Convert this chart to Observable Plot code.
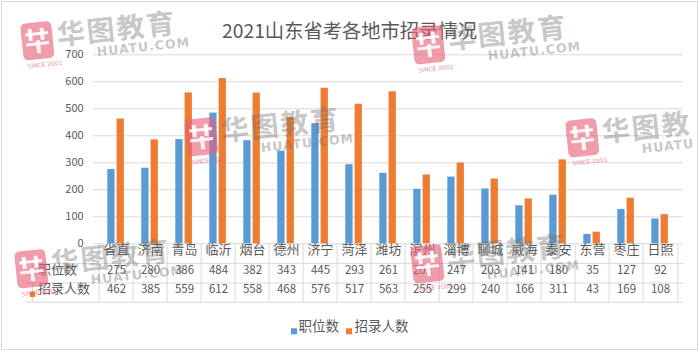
<!DOCTYPE html>
<html>
<head>
<meta charset="utf-8">
<script src="https://cdn.jsdelivr.net/npm/d3@7"></script>
<script src="https://cdn.jsdelivr.net/npm/@observablehq/plot@0.6"></script>
<style>
  body { margin: 0; background: #fff; }
  #wrap { position: relative; width: 700px; height: 352px; overflow: hidden; font-family: "Noto Sans CJK SC", sans-serif; }
  #chart { position: absolute; left: 0; top: 0; }
  #border { position: absolute; left: 1px; top: 1px; width: 695px; height: 347px; border: 1px solid #d9d9d9; pointer-events: none; }
  .wm { position: absolute; transform-origin: 0 0; transform: rotate(-6deg); pointer-events: none; width: 130px; height: 50px; }
  .wm .logo { position: absolute; left: 0; top: 0; width: 31px; height: 37px; border-radius: 5px; background: rgba(232, 96, 120, 0.62); }
  .wm .logo i { position: absolute; background: rgba(255,255,255,0.9); }
  .wm .since { position: absolute; left: 3px; top: 40px; font: 6px/1 "DejaVu Sans", sans-serif; color: rgba(232, 96, 120, 0.75); white-space: nowrap; }
  .wm .cn { position: absolute; left: 35.5px; top: -1px; font: bold 28px/1 "Noto Sans CJK SC", sans-serif; color: rgba(110, 110, 110, 0.4); white-space: nowrap; letter-spacing: 2px; }
  .wm .en { position: absolute; left: 73.5px; top: 29.5px; font: bold 12.5px/1 "DejaVu Sans", sans-serif; color: rgba(110, 110, 110, 0.4); white-space: nowrap; letter-spacing: 1px; }
</style>
</head>
<body>
<div id="wrap">
  <div id="chart"></div>
  <div id="wms"></div>
  <div id="border"></div>
</div>
<script>
// ---- data ----
const title = "2021山东省考各地市招录情况";
const categories = ["省直","济南","青岛","临沂","烟台","德州","济宁","菏泽","潍坊","滨州","淄博","聊城","威海","泰安","东营","枣庄","日照"];
const positionsCount = [275,280,386,484,382,343,445,293,261,202,247,203,141,180,35,127,92];   // 职位数
const recruitCount   = [462,385,559,612,558,468,576,517,563,255,299,240,166,311,43,169,108];  // 招录人数
const seriesNames = ["职位数","招录人数"];
const yTicks = [0,100,200,300,400,500,600,700];
const colors = ["#5B9BD5","#ED7D31"];
const watermarkCN = "华图教育";
const watermarkEN = "HUATU.COM";
const watermarkSince = "SINCE 2001";

const data = categories.map((c, i) => ({category: c, positions: positionsCount[i], recruits: recruitCount[i]}));

// ---- layout ----
const W = 700, H = 352;
const mL = 92.7, mR = 17, mT = 54.3, mB = 108.7;
const plotW = W - mL - mR;
const band = plotW / categories.length;
const frameH = H - mT - mB;
const gray = "#595959";
const lineC = "#d9d9d9";
const font = '"Noto Sans CJK SC", sans-serif';
const rowH = 19.6;
const tableLeft = 26;
const centerX = mL + plotW / 2;

const chart = Plot.plot({
  width: W, height: H,
  marginLeft: mL, marginRight: mR, marginTop: mT, marginBottom: mB,
  style: {fontFamily: font, color: gray, background: "transparent", overflow: "visible"},
  x: {domain: categories, padding: 0, axis: null},
  y: {domain: [0, 700], axis: null},
  marks: [
    Plot.gridY(yTicks, {stroke: lineC, strokeOpacity: 1}),
    Plot.axisY(yTicks, {tickSize: 0, tickPadding: 9.5, fontSize: 11, fill: gray, label: null}),
    Plot.barY(data, {x: "category", y: "positions", fill: colors[0], insetLeft: 8.3, insetRight: band - 16.3}),
    Plot.barY(data, {x: "category", y: "recruits", fill: colors[1], insetLeft: 17.6, insetRight: band - 25.6}),
    // table horizontal lines
    Plot.ruleY([0], {y: d => d, dy: rowH, stroke: lineC, insetLeft: tableLeft - mL}),
    Plot.ruleY([0], {y: d => d, dy: rowH * 2, stroke: lineC, insetLeft: tableLeft - mL}),
    Plot.ruleY([0], {y: d => d, dy: rowH * 3 - 0.4, stroke: lineC, insetLeft: tableLeft - mL}),
    // table vertical lines
    Plot.ruleX(categories, {x: d => d, dx: -band / 2, stroke: lineC, insetTop: frameH, insetBottom: -(rowH * 3 - 0.4)}),
    Plot.ruleX([categories[categories.length - 1]], {x: d => d, dx: band / 2, stroke: lineC, insetTop: frameH, insetBottom: -(rowH * 3 - 0.4)}),
    Plot.ruleX([categories[0]], {x: d => d, dx: -band / 2 - (mL - tableLeft), stroke: lineC, insetTop: frameH + rowH, insetBottom: -(rowH * 3 - 0.4)}),
    // table text
    Plot.text(categories, {x: d => d, text: d => d, frameAnchor: "bottom", dy: rowH / 2 + 0.5, fontSize: 13, fill: gray}),
    Plot.text(data, {x: "category", text: "positions", frameAnchor: "bottom", dy: rowH * 1.5 + 0.5, fontSize: 11.5, fill: gray}),
    Plot.text(data, {x: "category", text: "recruits", frameAnchor: "bottom", dy: rowH * 2.5 + 0.5, fontSize: 11.5, fill: gray}),
    // row headers
    Plot.dot([seriesNames[0]], {frameAnchor: "bottom-left", dx: 32 - mL, dy: rowH * 1.5 + 1.5, symbol: "square", r: 3, fill: colors[0]}),
    Plot.text([seriesNames[0]], {text: d => d, frameAnchor: "bottom-left", dx: 37.5 - mL, dy: rowH * 1.5 + 0.5, textAnchor: "start", fontSize: 13, fill: gray}),
    Plot.dot([seriesNames[1]], {frameAnchor: "bottom-left", dx: 32 - mL, dy: rowH * 2.5 + 1.5, symbol: "square", r: 3, fill: colors[1]}),
    Plot.text([seriesNames[1]], {text: d => d, frameAnchor: "bottom-left", dx: 37.5 - mL, dy: rowH * 2.5 + 0.5, textAnchor: "start", fontSize: 13, fill: gray}),
    // legend
    Plot.dot([seriesNames[0]], {frameAnchor: "bottom-left", dx: 293.5 - mL, dy: 87.5, symbol: "square", r: 3.4, fill: colors[0]}),
    Plot.text([seriesNames[0]], {text: d => d, frameAnchor: "bottom-left", dx: 298 - mL, dy: 87.5, textAnchor: "start", fontSize: 13.5, fill: gray}),
    Plot.dot([seriesNames[1]], {frameAnchor: "bottom-left", dx: 348.5 - mL, dy: 87.5, symbol: "square", r: 3.4, fill: colors[1]}),
    Plot.text([seriesNames[1]], {text: d => d, frameAnchor: "bottom-left", dx: 354 - mL, dy: 87.5, textAnchor: "start", fontSize: 13.5, fill: gray}),
    // title
    Plot.text([title], {text: d => d, frameAnchor: "top", dx: 349 - centerX, dy: 23.5 - mT, fontSize: 19.3, fill: gray})
  ]
});
document.getElementById("chart").appendChild(chart);

// ---- watermarks (decorative overlay) ----
const wmSpots = [[20, 24, 4, 9], [411, 28, 4, 9], [184, 120, 4, 9], [565, 121, 3, 5], [14, 252, 4, 9], [410, 247, 4, 9]];
const wms = document.getElementById("wms");
for (const [x, y, nCN, nEN] of wmSpots) {
  const el = document.createElement("div");
  el.className = "wm";
  el.style.left = x + "px";
  el.style.top = y + "px";
  el.innerHTML = '<div class="logo"><i style="left:7px;top:6px;width:4px;height:12px"></i><i style="left:19px;top:6px;width:4px;height:12px"></i><i style="left:4px;top:10px;width:23px;height:3px"></i><i style="left:4px;top:20px;width:23px;height:3px"></i><i style="left:13.5px;top:18px;width:4px;height:13px"></i></div>' +
    '<div class="since">' + watermarkSince + '</div><div class="cn">' + watermarkCN.slice(0, nCN) + '</div><div class="en">' + watermarkEN.slice(0, nEN) + '</div>';
  wms.appendChild(el);
}
</script>
</body>
</html>
